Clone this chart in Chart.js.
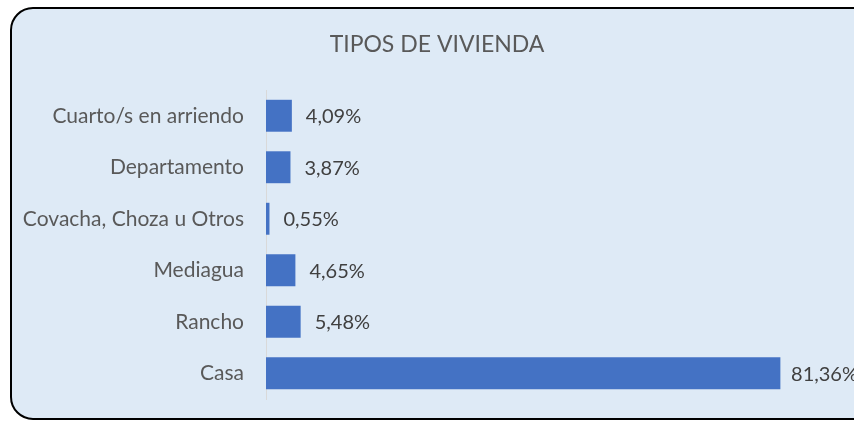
<!DOCTYPE html>
<html>
<head>
<meta charset="utf-8">
<script src="https://cdn.jsdelivr.net/npm/chart.js@4.4.1/dist/chart.umd.min.js"></script>
<style>
  html, body { margin: 0; padding: 0; background: #fff; }
  #wrap { width: 854px; height: 421px; position: relative; }
</style>
</head>
<body>
<div id="wrap"><canvas id="chart"></canvas></div>
<script>
const chartTitle = 'TIPOS DE VIVIENDA'
const categories = ['Cuarto/s en arriendo', 'Departamento', 'Covacha, Choza u Otros', 'Mediagua', 'Rancho', 'Casa']
const percents = [4.09, 3.87, 0.55, 4.65, 5.48, 81.36]

const FONT = 'Lato, "Open Sans", sans-serif'

// rounded light-blue panel behind the chart, plus the title
const panel = {
  id: 'panel',
  beforeDraw(chart) {
    const ctx = chart.ctx
    ctx.save()
    ctx.beginPath()
    ctx.roundRect(11, 8, 870, 411, 22)
    ctx.fillStyle = '#DEEAF6'
    ctx.fill()
    ctx.lineWidth = 2
    ctx.strokeStyle = '#000'
    ctx.stroke()
    ctx.font = '23px ' + FONT
    ctx.fillStyle = '#595959'
    ctx.textAlign = 'center'
    ctx.textBaseline = 'middle'
    ctx.fillText(chartTitle, 437, 45)
    ctx.restore()
  },
}

// value labels at the end of each bar
const barLabels = {
  id: 'barLabels',
  afterDatasetsDraw(chart) {
    const ctx = chart.ctx
    const meta = chart.getDatasetMeta(0)
    ctx.save()
    ctx.font = '20px ' + FONT
    ctx.fillStyle = '#404040'
    ctx.textBaseline = 'middle'
    meta.data.forEach((bar, i) => {
      const txt = percents[i].toFixed(2).replace('.', ',') + '%'
      const w = ctx.measureText(txt).width
      let x = bar.x + 14
      if (x + w > chart.width + 4) x = chart.width + 4 - w
      ctx.fillText(txt, x, bar.y + 1)
    })
    ctx.restore()
  },
}

new Chart(document.getElementById('chart'), {
  type: 'bar',
  data: {
    labels: categories,
    datasets: [
      {
        data: percents,
        backgroundColor: '#4472C4',
        borderWidth: 0,
        categoryPercentage: 0.62,
        barPercentage: 1,
      },
    ],
  },
  options: {
    indexAxis: 'y',
    responsive: true,
    maintainAspectRatio: false,
    animation: false,
    layout: { padding: { left: 0, right: 19, top: 90, bottom: 22 } },
    plugins: {
      legend: { display: false },
      tooltip: { enabled: false },
      title: { display: false },
    },
    scales: {
      x: { display: false, min: 0, max: 90 },
      y: {
        grid: { display: false, drawTicks: false },
        border: { display: true, color: '#D9D9D9', width: 1 },
        ticks: {
          color: '#595959',
          font: { family: FONT, size: 21 },
          padding: 22,
        },
        afterFit(scale) {
          scale.width = 266
          scale.paddingTop = 0
          scale.paddingBottom = 0
        },
      },
    },
  },
  plugins: [panel, barLabels],
})
</script>
</body>
</html>
